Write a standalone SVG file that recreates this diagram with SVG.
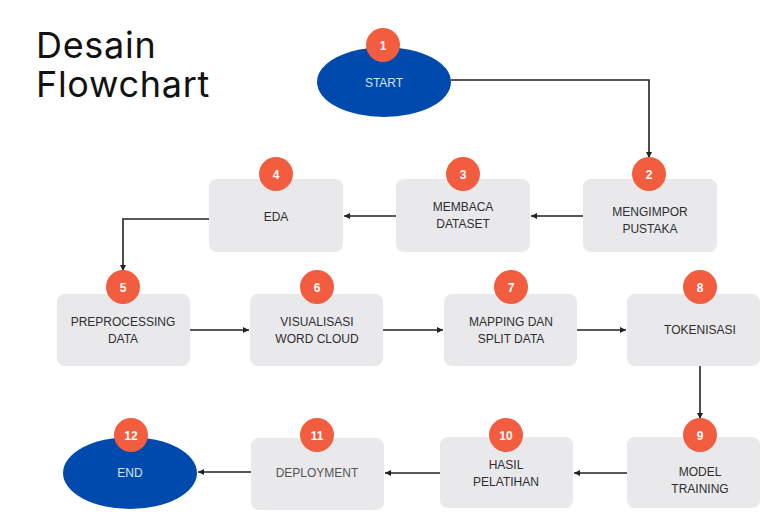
<svg xmlns="http://www.w3.org/2000/svg" width="777" height="531" viewBox="0 0 777 531">
<defs>
<marker id="ah" markerWidth="8" markerHeight="8" refX="6" refY="4" orient="auto" markerUnits="userSpaceOnUse">
<path d="M0,1 L6,4 L0,7 Z" fill="#222"/>
</marker>
<style>
.box{fill:#E9E9EC}
.oval{fill:#004AAD}
.badge{fill:#F25C3F}
.num{font-family:"Liberation Sans",Arial,sans-serif;font-size:12px;font-weight:bold;fill:#fff;text-anchor:middle}
.lbl{font-family:"Liberation Sans",Arial,sans-serif;font-size:12px;fill:#2e2e2e;text-anchor:middle}
.olbl{font-family:"Liberation Sans",Arial,sans-serif;font-size:12px;fill:#D6E0F2;text-anchor:middle}
.edge{fill:none;stroke:#222;stroke-width:1.6;marker-end:url(#ah)}
.title{font-family:Inter,"Liberation Sans",sans-serif;font-size:36px;letter-spacing:0.7px;fill:#111}
</style>
</defs>
<rect width="777" height="531" fill="#fff"/>
<text class="title" x="36" y="58"><tspan x="36" y="58">Desain</tspan><tspan x="36" y="97">Flowchart</tspan></text>

<g id="connectors">
<path class="edge" d="M451,80 H649 V158"/>
<path class="edge" d="M583,216 H531"/>
<path class="edge" d="M396,216 H344"/>
<path class="edge" d="M209,219 H123 V271"/>
<path class="edge" d="M190,330 H249"/>
<path class="edge" d="M383,330 H443"/>
<path class="edge" d="M577,330 H626"/>
<path class="edge" d="M700,366 V419"/>
<path class="edge" d="M627,473 H574"/>
<path class="edge" d="M440,473 H385"/>
<path class="edge" d="M251,472 H198"/>
</g>

<g id="n1">
<ellipse class="oval" cx="384" cy="82" rx="67" ry="35"/>
<text class="olbl" x="384" y="87">START</text>
<circle class="badge" cx="383" cy="45" r="17"/>
<text class="num" x="383" y="49.5">1</text>
</g>
<g id="n2">
<rect class="box" x="583" y="179" width="134" height="73" rx="8"/>
<text class="lbl" x="650" y="216">MENGIMPOR</text>
<text class="lbl" x="650" y="233">PUSTAKA</text>
<circle class="badge" cx="649" cy="174" r="17"/>
<text class="num" x="649" y="178.5">2</text>
</g>
<g id="n3">
<rect class="box" x="396" y="179" width="134" height="73" rx="8"/>
<text class="lbl" x="463" y="211">MEMBACA</text>
<text class="lbl" x="463" y="228">DATASET</text>
<circle class="badge" cx="463" cy="174" r="17"/>
<text class="num" x="463" y="178.5">3</text>
</g>
<g id="n4">
<rect class="box" x="209" y="179" width="134" height="73" rx="8"/>
<text class="lbl" x="276" y="221">EDA</text>
<circle class="badge" cx="276" cy="174" r="17"/>
<text class="num" x="276" y="178.5">4</text>
</g>
<g id="n5">
<rect class="box" x="57" y="294" width="133" height="72" rx="8"/>
<text class="lbl" x="123" y="326">PREPROCESSING</text>
<text class="lbl" x="123" y="343">DATA</text>
<circle class="badge" cx="123" cy="287" r="17"/>
<text class="num" x="123" y="291.5">5</text>
</g>
<g id="n6">
<rect class="box" x="250" y="294" width="133" height="72" rx="8"/>
<text class="lbl" x="317" y="326">VISUALISASI</text>
<text class="lbl" x="317" y="343">WORD CLOUD</text>
<circle class="badge" cx="317" cy="287" r="17"/>
<text class="num" x="317" y="291.5">6</text>
</g>
<g id="n7">
<rect class="box" x="444" y="294" width="133" height="72" rx="8"/>
<text class="lbl" x="511" y="326">MAPPING DAN</text>
<text class="lbl" x="511" y="343">SPLIT DATA</text>
<circle class="badge" cx="511" cy="287" r="17"/>
<text class="num" x="511" y="291.5">7</text>
</g>
<g id="n8">
<rect class="box" x="627" y="294" width="133" height="72" rx="8"/>
<text class="lbl" x="700" y="334">TOKENISASI</text>
<circle class="badge" cx="700" cy="287" r="17"/>
<text class="num" x="700" y="291.5">8</text>
</g>
<g id="n9">
<rect class="box" x="627" y="437" width="133" height="71" rx="8"/>
<text class="lbl" x="700" y="476">MODEL</text>
<text class="lbl" x="700" y="493">TRAINING</text>
<circle class="badge" cx="700" cy="435" r="17"/>
<text class="num" x="700" y="439.5">9</text>
</g>
<g id="n10">
<rect class="box" x="440" y="437" width="133" height="71" rx="8"/>
<text class="lbl" x="506" y="469">HASIL</text>
<text class="lbl" x="506" y="486">PELATIHAN</text>
<circle class="badge" cx="506" cy="435" r="17"/>
<text class="num" x="506" y="439.5">10</text>
</g>
<g id="n11">
<rect class="box" x="251" y="438" width="133" height="72" rx="8"/>
<text class="lbl" x="317" y="477" style="fill:#555">DEPLOYMENT</text>
<circle class="badge" cx="317" cy="435" r="17"/>
<text class="num" x="317" y="439.5">11</text>
</g>
<g id="n12">
<ellipse class="oval" cx="130" cy="473" rx="67" ry="36"/>
<text class="olbl" x="130" y="477">END</text>
<circle class="badge" cx="131" cy="435" r="17"/>
<text class="num" x="131" y="439.5">12</text>
</g>
</svg>
